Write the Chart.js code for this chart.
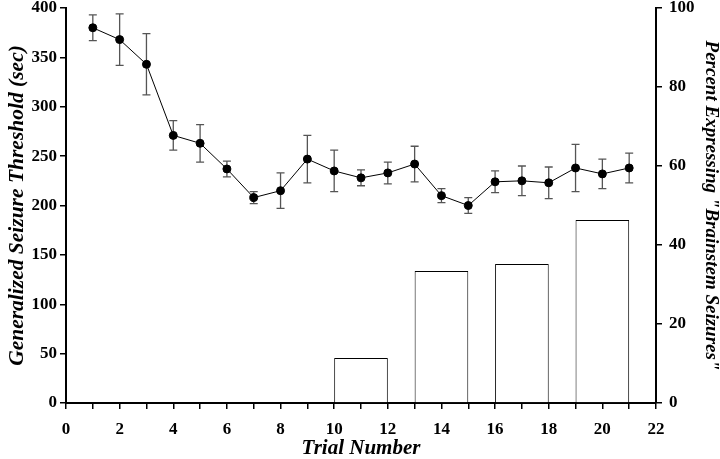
<!DOCTYPE html>
<html>
<head>
<meta charset="utf-8">
<script src="https://cdn.jsdelivr.net/npm/chart.js@4.4.1/dist/chart.umd.min.js"></script>
<style>
  html, body { margin: 0; padding: 0; background: #fff; }
  #wrap { width: 720px; height: 459px; }
</style>
</head>
<body>
<div id="wrap"><canvas id="chart"></canvas></div>
<script>
// trial-by-trial threshold (left axis) with SEM
const trials = [1, 2, 3, 4, 5, 6, 7, 8, 9, 10, 11, 12, 13, 14, 15, 16, 17, 18, 19, 20, 21];
const threshold = [380, 368, 343, 271, 263, 237, 208, 215, 247, 235, 228, 233, 242, 210, 200, 224, 225, 223, 238, 232, 238];
const thresholdErr = [13, 26, 31, 15, 19, 8, 6, 18, 24, 21, 8, 11, 18, 7, 8, 11, 15, 16, 24, 15, 15];

// blocks of trials, percent with brainstem seizures (right axis)
const blockCenters = [11, 14, 17, 20];
const percentBrainstem = [11.4, 33.4, 35.2, 46.3];

const serif = 'Liberation Serif';
Chart.defaults.font.family = serif;
Chart.defaults.color = '#000';

// draws the vertical error bars with little caps
const errorBars = {
  id: 'errorBars',
  beforeDatasetsDraw(chart) {
    const ctx = chart.ctx;
    const xs = chart.scales.x;
    const ys = chart.scales.y;
    ctx.save();
    ctx.strokeStyle = '#555';
    ctx.lineWidth = 1.3;
    trials.forEach((t, i) => {
      const px = xs.getPixelForValue(t);
      const top = ys.getPixelForValue(threshold[i] + thresholdErr[i]);
      const bot = ys.getPixelForValue(threshold[i] - thresholdErr[i]);
      ctx.beginPath();
      ctx.moveTo(px, top); ctx.lineTo(px, bot);
      ctx.moveTo(px - 4, top); ctx.lineTo(px + 4, top);
      ctx.moveTo(px - 4, bot); ctx.lineTo(px + 4, bot);
      ctx.stroke();
    });
    ctx.restore();
  }
};

const tickFont = { family: serif, size: 17, weight: 'bold' };
const titleFont = size => ({ family: serif, size: size, weight: 'bold', style: 'italic', lineHeight: 1 });
const axisGrid = { display: true, offset: false, drawOnChartArea: false, drawTicks: true, tickLength: 6, color: '#000', lineWidth: 1.5 };
const axisBorder = { display: true, color: '#000', width: 2 };

// pin the plot box to where it sits in the figure
const fixWidth = w => scale => { scale.width = w; scale.paddingTop = 8; scale.paddingBottom = 0; };

new Chart(document.getElementById('chart'), {
  data: {
    datasets: [
      {
        type: 'line',
        data: trials.map((t, i) => ({ x: t, y: threshold[i] })),
        borderColor: '#000',
        borderWidth: 1,
        pointRadius: 4,
        pointBackgroundColor: '#000',
        pointBorderColor: '#000',
        yAxisID: 'y'
      },
      {
        type: 'bar',
        data: blockCenters.map((c, i) => ({ x: c, y: percentBrainstem[i] })),
        backgroundColor: '#fff',
        borderColor: '#000',
        borderWidth: 1,
        categoryPercentage: 1,
        barPercentage: 2,
        yAxisID: 'y2'
      }
    ]
  },
  options: {
    responsive: true,
    maintainAspectRatio: false,
    animation: false,
    layout: { padding: 0 },
    plugins: { legend: { display: false }, tooltip: { enabled: false } },
    scales: {
      x: {
        type: 'linear',
        offset: false,
        min: 0, max: 22,
        grid: axisGrid,
        border: axisBorder,
        ticks: {
          stepSize: 1, autoSkip: false, maxRotation: 0, font: tickFont, padding: 10,
          callback: v => (v % 2 === 0 ? v : '')
        },
        title: { display: true, text: 'Trial Number', font: titleFont(21), padding: 0 },
        afterFit: scale => { scale.height = 56; scale.paddingLeft = 0; scale.paddingRight = 0; }
      },
      y: {
        position: 'left',
        min: 0, max: 400,
        grid: axisGrid,
        border: axisBorder,
        ticks: { stepSize: 50, font: tickFont, padding: 3 },
        title: { display: true, text: 'Generalized Seizure Threshold (sec)', font: titleFont(21.5), padding: { top: 7, bottom: 0 } },
        afterFit: fixWidth(66)
      },
      y2: {
        position: 'right',
        min: 0, max: 100,
        grid: axisGrid,
        border: axisBorder,
        ticks: { stepSize: 20, font: tickFont, padding: 7 },
        title: { display: true, text: 'Percent Expressing "Brainstem Seizures"', font: titleFont(19), padding: 0 },
        afterFit: fixWidth(64)
      }
    }
  },
  plugins: [errorBars]
});
</script>
</body>
</html>
